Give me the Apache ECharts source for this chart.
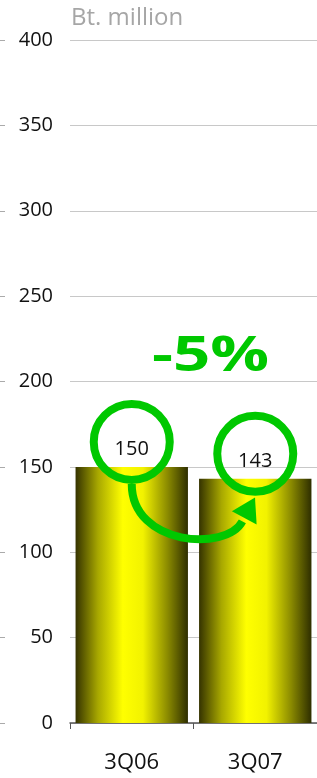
<!DOCTYPE html>
<html>
<head>
    <meta charset="utf8">
    <script src="https://cdn.jsdelivr.net/npm/echarts@6/dist/echarts.min.js"></script>
    <style>
        html, body { margin: 0; padding: 0; background: #fff; }
        #main { width: 317px; height: 778px; }
    </style>
</head>
<body>
    <div id="main"></div>
    <script type="text/javascript">
        // data
        var categories = ['3Q06', '3Q07'];
        var values = [150, 143];
        var yTicks = [0, 50, 100, 150, 200, 250, 300, 350, 400];
        var unitLabel = 'Bt. million';
        var changeLabel = '-5%';

        var green = '#00c800';
        var font = 'Open Sans';

        var barGradient = {
            type: 'linear', x: 0, y: 0, x2: 1, y2: 0,
            colorStops: [
                { offset: 0, color: '#353300' },
                { offset: 0.2, color: '#a8a800' },
                { offset: 0.42, color: '#ffff00' },
                { offset: 0.6, color: '#f2f200' },
                { offset: 0.82, color: '#8a8a00' },
                { offset: 1, color: '#2e2e00' }
            ]
        };

        // curved arrow from the bottom of the first circle to the second one
        function renderArrow(params, api) {
            var a = api.coord([api.value(0), api.value(1)]);
            var b = api.coord([api.value(2), api.value(3)]);
            var s = [a[0], a[1] + 17];
            var e = [b[0] - 11, b[1] + 39];
            var c1 = [s[0], s[1] + 62];
            var c2 = [e[0] - 18, e[1] + 34];
            var dx = e[0] - c2[0], dy = e[1] - c2[1];
            var len = Math.sqrt(dx * dx + dy * dy);
            dx /= len; dy /= len;
            var tip = [e[0] + dx * 23, e[1] + dy * 23];
            var l = [e[0] - dy * 14, e[1] + dx * 14];
            var r = [e[0] + dy * 14, e[1] - dx * 14];
            return {
                type: 'group',
                children: [{
                    type: 'bezierCurve',
                    shape: {
                        x1: s[0], y1: s[1], x2: e[0] - dx * 4, y2: e[1] - dy * 4,
                        cpx1: c1[0], cpy1: c1[1], cpx2: c2[0], cpy2: c2[1]
                    },
                    style: { stroke: green, lineWidth: 8, fill: null }
                }, {
                    type: 'polygon',
                    shape: { points: [l, tip, r] },
                    style: { fill: green }
                }]
            };
        }

        var myChart = echarts.init(document.getElementById('main'));
        var option = {
            animation: false,
            title: {
                text: unitLabel,
                left: 71,
                top: 6,
                padding: 0,
                textStyle: { fontFamily: font, fontSize: 24, fontWeight: 'normal', color: '#a6a6a6' }
            },
            grid: { left: 70, right: 0, top: 40, bottom: 55, containLabel: false },
            xAxis: {
                type: 'category',
                data: categories,
                axisLine: { lineStyle: { color: '#555', width: 1.5 } },
                axisTick: { show: true, length: 6, lineStyle: { color: '#555' } },
                axisLabel: { margin: 29, fontFamily: font, fontSize: 22, color: '#111' }
            },
            yAxis: [{
                type: 'value',
                min: yTicks[0],
                max: yTicks[yTicks.length - 1],
                interval: yTicks[1] - yTicks[0],
                axisLine: { show: false },
                axisTick: { show: false },
                axisLabel: { margin: 17, fontFamily: font, fontSize: 20, color: '#111' },
                splitLine: { lineStyle: { color: '#c8c8c8', width: 1 } }
            }, {
                type: 'value',
                position: 'left',
                offset: 70,
                min: yTicks[0],
                max: yTicks[yTicks.length - 1],
                interval: yTicks[1] - yTicks[0],
                axisLine: { show: false },
                axisTick: { show: true, inside: true, length: 5, lineStyle: { color: '#aaa' } },
                axisLabel: { show: false },
                splitLine: { show: false }
            }],
            series: [{
                type: 'bar',
                data: values,
                barCategoryGap: '9%',
                itemStyle: { color: barGradient },
                label: {
                    show: true,
                    position: 'top',
                    distance: 8,
                    fontFamily: font,
                    fontSize: 20,
                    color: '#111'
                },
                z: 2
            }, {
                type: 'scatter',
                data: values,
                symbol: 'circle',
                symbolSize: 76,
                symbolOffset: [0, -25],
                itemStyle: { color: 'rgba(0,0,0,0)', borderColor: green, borderWidth: 8, opacity: 1 },
                silent: true,
                z: 4
            }, {
                type: 'custom',
                coordinateSystem: 'cartesian2d',
                data: [[0, values[0], 1, values[1]]],
                renderItem: renderArrow,
                silent: true,
                z: 5
            }],
            graphic: [{
                type: 'text',
                left: 152,
                top: 333,
                scaleX: 1.36,
                style: {
                    text: changeLabel,
                    fontFamily: font,
                    fontSize: 48,
                    fontWeight: 'bold',
                    fill: green
                },
                z: 10
            }]
        };
        myChart.setOption(option);
    </script>
</body>
</html>
